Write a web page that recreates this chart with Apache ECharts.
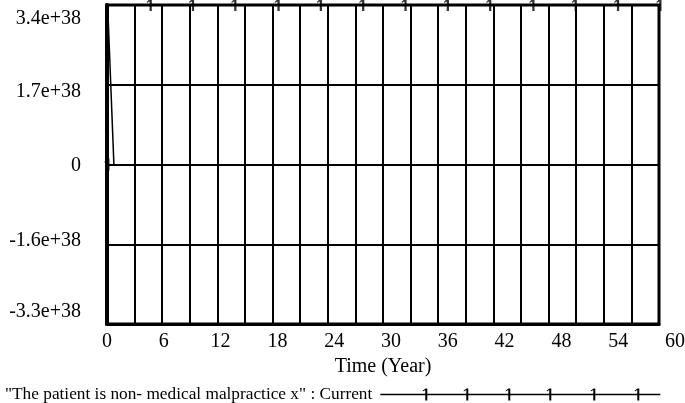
<!DOCTYPE html>
<html>
<head>
<meta charset="utf-8">
<script src="https://cdn.jsdelivr.net/npm/echarts@6/dist/echarts.min.js"></script>
<style>html,body{margin:0;padding:0;background:#fff}#c{width:685px;height:403px}</style>
</head>
<body>
<div id="c"></div>
<script>
const seriesName = '"The patient is non- medical malpractice x" : Current';
const timeValues = [0, 0.07, 0.75, 0.8, 1, 60];
const currentValues = [0, 3.4e38, 0, null, 3.4e38, 3.4e38];
const markerTimes = [0, 4.6, 9.2, 13.8, 18.5, 23.1, 27.7, 32.3, 36.9, 41.5, 46.2, 50.8, 55.4, 60];
const markerValues = [0, 3.4e38, 3.4e38, 3.4e38, 3.4e38, 3.4e38, 3.4e38, 3.4e38, 3.4e38, 3.4e38, 3.4e38, 3.4e38, 3.4e38, 3.4e38];
const yTickLabels = ['-3.3e+38', '-1.6e+38', '0', '1.7e+38', '3.4e+38'];
const xTickLabels = ['0', '6', '12', '18', '24', '30', '36', '42', '48', '54', '60'];

const font = 'Liberation Serif, Times New Roman, serif';
const onePath = 'path://M3,0 L5,0 L5,12 L3,12 L3,2.6 L0.6,4 L0.6,3 Z';

function legendIcon() {
  let p = 'path://M0,5.3 L280,5.3 L280,6.7 L0,6.7 Z';
  [46, 87, 129, 170, 214, 258].forEach(x => {
    p += ` M${x - 1},0 L${x + 1},0 L${x + 1},12 L${x - 1},12 Z M${x - 1},0.2 L${x - 3.5},2 L${x - 3.5},3 L${x - 1},1.6 Z`;
  });
  return p;
}

const chart = echarts.init(document.getElementById('c'), null, {renderer: 'canvas'});
const richY = {
  t0: {fontFamily: font, fontSize: 20, color: '#000', padding: [0, 0, 24, 0]},
  t1: {fontFamily: font, fontSize: 20, color: '#000', padding: [0, 0, 8, 0]},
  t2: {fontFamily: font, fontSize: 20, color: '#000', padding: [2, 0, 0, 0]},
  t3: {fontFamily: font, fontSize: 20, color: '#000', padding: [14, 0, 0, 0]},
  t4: {fontFamily: font, fontSize: 20, color: '#000', padding: [28, 0, 0, 0]}
};
// x labels sit slightly right of their gridlines in the reference, growing toward the right
const richX = {};
xTickLabels.forEach((_, i) => {
  richX['p' + i] = {fontFamily: font, fontSize: 20, color: '#000', padding: [0, 0, 0, Math.round(3.2 * i)]};
});
chart.setOption({
  animation: false,
  backgroundColor: '#fff',
  grid: {left: 107, right: 26, top: 5, bottom: 79, outerBoundsMode: 'none', containLabel: false,
         show: true, borderColor: '#000', borderWidth: 3, backgroundColor: 'transparent'},
  legend: {
    left: 0, top: 381, align: 'right', itemGap: 0,
    itemWidth: 280, itemHeight: 12,
    textStyle: {fontFamily: font, fontSize: 17.3, color: '#000', padding: [0, 3, 0, 0]},
    data: [{name: seriesName, icon: legendIcon(), itemStyle: {color: '#000'}}]
  },
  xAxis: {
    type: 'value', min: 0, max: 60, interval: 3,
    name: 'Time (Year)', nameLocation: 'middle', nameGap: 32,
    nameTextStyle: {fontFamily: font, fontSize: 20, color: '#000'},
    axisLine: {show: true, onZero: false, lineStyle: {color: '#000', width: 3}},
    axisTick: {show: false},
    splitLine: {show: true, lineStyle: {color: '#000', width: 2}},
    axisLabel: {
      margin: 8, fontFamily: font, fontSize: 20, color: '#000',
      showMinLabel: true, showMaxLabel: true, hideOverlap: false,
      formatter: (v) => { const i = Math.round(v / 6); return Math.abs(v - i * 6) < 1e-6 ? `{p${i}|${xTickLabels[i]}}` : ''; },
      rich: richX
    }
  },
  yAxis: {
    type: 'value', min: -3.4e38, max: 3.4e38, interval: 1.7e38,
    axisLine: {show: true, onZero: false, lineStyle: {color: '#000', width: 4}},
    axisTick: {show: false},
    splitLine: {show: true, lineStyle: {color: '#000', width: 2}},
    axisLabel: {
      margin: 26, fontFamily: font, fontSize: 20, color: '#000',
      showMinLabel: true, showMaxLabel: true,
      formatter: (v, i) => `{t${i}|${yTickLabels[i]}}`,
      rich: richY
    }
  },
  series: [
    {
      name: seriesName, type: 'line', showSymbol: false, clip: false,
      connectNulls: false,
      lineStyle: {color: '#000', width: 1.5},
      itemStyle: {color: '#000'},
      data: timeValues.map((t, i) => [t, currentValues[i]])
    },
    {
      name: 'markers', type: 'scatter', symbol: onePath, symbolSize: [5, 12],
      itemStyle: {color: '#000'}, clip: false, z: 5,
      data: markerTimes.map((t, i) => [t, markerValues[i]])
    }
  ]
});
</script>
</body>
</html>
